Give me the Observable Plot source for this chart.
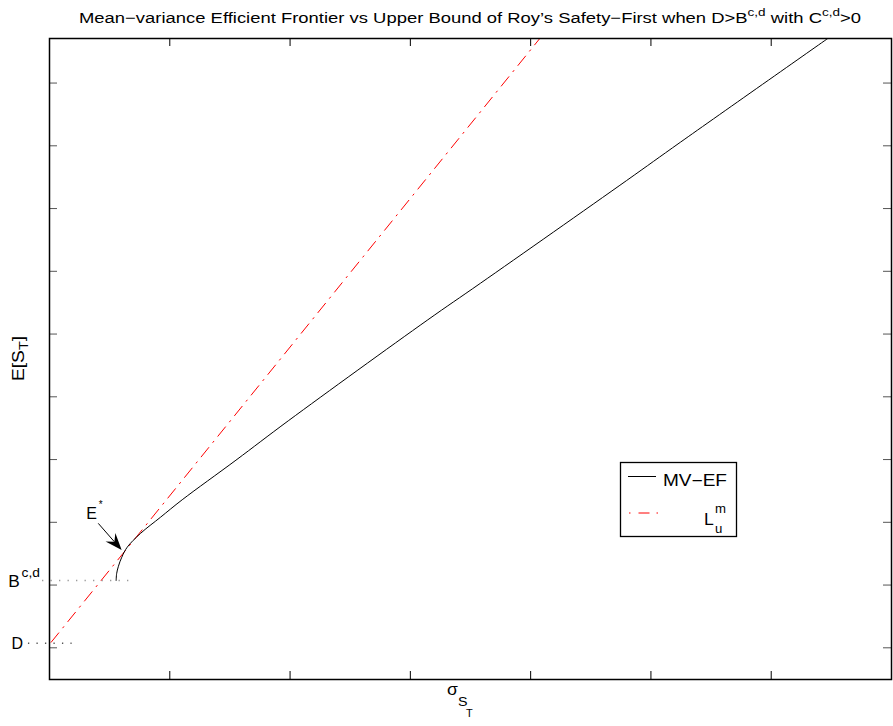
<!DOCTYPE html>
<html><head><meta charset="utf-8">
<script src="https://cdn.jsdelivr.net/npm/d3@7"></script>
<script src="https://cdn.jsdelivr.net/npm/@observablehq/plot@0.6"></script>
<style>body{margin:0;background:#fff} #chart{width:893px;height:726px}</style>
</head><body><div id="chart"></div>
<script>
// ---- data ----
const sigmaMV = [0.554, 0.558, 0.573, 0.601, 0.646, 0.756, 0.923, 1.103, 1.55, 1.989, 3.140, 3.583, 4.796, 5.245, 6.478];
const meanMV  = [1.073, 1.18, 1.30, 1.444, 1.603, 1.822, 2.081, 2.359, 2.99, 3.623, 5.220, 5.810, 7.444, 8.057, 9.721];
const sigmaL  = [0.014, 4.076];
const meanL   = [0.089, 9.71];
const xTicks  = [1, 2, 3, 4, 5, 6];
const yTicks  = [0, 1, 2, 3, 4, 5, 6, 7, 8, 9];
const levelD  = 0.073;
const levelB  = 1.073;
const guideD  = [-0.175, 0.188];
const guideB  = [-0.058, 0.66];
const eStar   = [0.604, 1.55];
const seriesNames = ["MV\u2212EF", "L"];

const W = 893, H = 726, mL = 49, mR = 2, mT = 38, mB = 47;
const fw = W - mL - mR, fh = H - mT - mB, tickLen = 8;
const FONT = "'Liberation Sans', Arial, Helvetica, sans-serif";
const STRETCH = 1.2;

const mv = sigmaMV.map((s, i) => ({s, m: meanMV[i]}));
const lm = sigmaL.map((s, i) => ({s, m: meanL[i]}));
const guides = [
  {y: levelD, x1: guideD[0], x2: guideD[1], c: "#555"},
  {y: levelB, x1: guideB[0], x2: guideB[1], c: "#999"}
];

const plot = Plot.plot({
  width: W, height: H,
  marginLeft: mL, marginRight: mR, marginTop: mT, marginBottom: mB,
  x: {domain: [0, 7], axis: null},
  y: {domain: [-0.505, 9.71], axis: null},
  style: {fontFamily: FONT, background: "#fff", overflow: "visible"},
  marks: [
    Plot.ruleX(xTicks, {x: d => d, insetTop: fh - tickLen, stroke: "#000", strokeWidth: 1}),
    Plot.ruleX(xTicks, {x: d => d, insetBottom: fh - tickLen, stroke: "#000", strokeWidth: 1}),
    Plot.ruleY(yTicks, {y: d => d, insetRight: fw - tickLen, stroke: "#555", strokeWidth: 1}),
    Plot.ruleY(yTicks, {y: d => d, insetLeft: fw - tickLen, stroke: "#555", strokeWidth: 1}),
    Plot.ruleY(guides, {y: "y", x1: "x1", x2: "x2", stroke: "c", strokeWidth: 1.3, strokeDasharray: "1.3,7.2"}),
    Plot.line(lm, {x: "s", y: "m", stroke: "#ff0000", strokeWidth: 1, strokeDasharray: "12,6.5,1.5,6.5", clip: true}),
    Plot.line(mv, {x: "s", y: "m", curve: "catmull-rom", stroke: "#000", strokeWidth: 1, clip: true}),
    Plot.frame({stroke: "#000", strokeWidth: 1.5})
  ]
});
document.getElementById("chart").appendChild(plot);

const sx = plot.scale("x"), sy = plot.scale("y");
const svg = d3.select(plot);
const g = svg.append("g").attr("font-family", FONT).attr("fill", "#000").attr("text-anchor", "start");

// text with horizontal stretch; parts = [{t, dy, size}]
function rich(x, y, parts, size, opts = {}) {
  const k = opts.k ?? STRETCH, rot = opts.rotate || 0;
  const t = g.append("text")
    .attr("transform", `translate(${x},${y}) rotate(${rot}) scale(${k},1)`)
    .attr("font-size", size).attr("text-anchor", opts.anchor || "start");
  parts.forEach(p => {
    const ts = t.append("tspan").text(p.t);
    if (p.dy) ts.attr("dy", p.dy);
    if (p.size) ts.attr("font-size", p.size);
  });
  return t;
}

// title
rich(mL + fw / 2, 23, [
  {t: "Mean\u2212variance Efficient Frontier vs Upper Bound of Roy\u2019s Safety\u2212First when D>B"},
  {t: "c,d", dy: -7, size: 11},
  {t: " with C", dy: 7},
  {t: "c,d", dy: -7, size: 11},
  {t: ">0", dy: 7}
], 15, {anchor: "middle", k: 1.229});

// x label  sigma_{S_T}
rich(447, 695, [{t: "\u03c3"}], 16, {k: 1.1});
rich(458, 706, [{t: "S"}], 13, {k: 1.1});
rich(466, 717, [{t: "T"}], 10, {k: 1.1});

// y label E[S_T]
rich(24, mT + fh / 2, [{t: "E[S"}, {t: "T", dy: 4, size: 12}, {t: "]", dy: -4}], 16,
  {anchor: "middle", rotate: -90, k: 1.2});

// D and B labels
const yD = sy.apply(levelD), yB = sy.apply(levelB);
rich(11.5, yD + 6.5, [{t: "D"}], 16, {k: 1.0});
rich(8.3, yB + 7, [{t: "B"}], 16, {k: 1.08});
rich(21.5, yB - 3, [{t: "c,d"}], 12, {k: 1.15});

// E* annotation with filled arrow
const ex = sx.apply(eStar[0]), ey = sy.apply(eStar[1]);
rich(ex - 35.3, ey - 31, [{t: "E"}], 16, {k: 1.0});
rich(ex - 23, ey - 42, [{t: "*"}], 10, {k: 1.0});
const tx = ex - 23.4, ty = ey - 26.7;
const ang = Math.atan2(ey - ty, ex - tx);
const hl = 17, hw = 6.5, notch = 11;
const ux = Math.cos(ang), uy = Math.sin(ang), px = -uy, py = ux;
g.append("line").attr("x1", tx).attr("y1", ty).attr("x2", ex - ux * notch).attr("y2", ey - uy * notch)
  .attr("stroke", "#000").attr("stroke-width", 1);
const head = [
  [ex, ey],
  [ex - ux * hl + px * hw, ey - uy * hl + py * hw],
  [ex - ux * notch, ey - uy * notch],
  [ex - ux * hl - px * hw, ey - uy * hl - py * hw]
];
g.append("path").attr("d", "M" + head.map(p => p.join(",")).join("L") + "Z").attr("fill", "#000");

// legend
g.append("rect").attr("x", 620.5).attr("y", 462.5).attr("width", 116).attr("height", 74)
  .attr("fill", "#fff").attr("stroke", "#000").attr("stroke-width", 1.3);
g.append("line").attr("x1", 628).attr("x2", 656).attr("y1", 476.5).attr("y2", 476.5)
  .attr("stroke", "#000").attr("stroke-width", 1);
rich(663, 486, [{t: seriesNames[0]}], 16, {k: 1.19});
g.append("line").attr("x1", 629).attr("x2", 658).attr("y1", 513).attr("y2", 513)
  .attr("stroke", "#ff0000").attr("stroke-width", 1).attr("stroke-dasharray", "1.5,8,11,7,1.5");
rich(704, 525, [{t: seriesNames[1]}], 16, {k: 1.1});
rich(715, 513, [{t: "m"}], 12, {k: 1.1});
rich(715, 533, [{t: "u"}], 12, {k: 1.1});
</script></body></html>
